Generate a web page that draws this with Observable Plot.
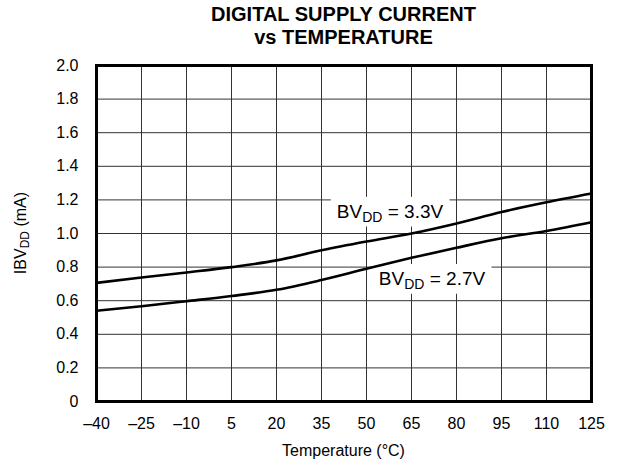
<!DOCTYPE html>
<html><head><meta charset="utf-8">
<script src="https://cdn.jsdelivr.net/npm/d3@7"></script>
<script src="https://cdn.jsdelivr.net/npm/@observablehq/plot@0.6"></script>
<style>
body{margin:0;background:#fff;font-family:"Liberation Sans",Arial,Helvetica,sans-serif;}
#wrap{width:618px;height:462px;position:relative;overflow:hidden;}
#title{height:50px;box-sizing:border-box;padding-top:3px;padding-left:69px;text-align:center;font-weight:bold;font-size:20px;line-height:23px;color:#000;}
</style></head><body>
<div id="wrap"><div id="title">DIGITAL SUPPLY CURRENT<br>vs TEMPERATURE</div><div id="chart"></div></div>
<script>
const temps = [-40, -25, -10, 5, 20, 35, 50, 65, 80, 95, 110, 125];
const i33 = [0.706, 0.738, 0.768, 0.800, 0.840, 0.900, 0.952, 1.000, 1.060, 1.128, 1.186, 1.238];
const i27 = [0.540, 0.567, 0.597, 0.628, 0.665, 0.723, 0.790, 0.855, 0.915, 0.972, 1.015, 1.067];
const xTicks = [-40, -25, -10, 5, 20, 35, 50, 65, 80, 95, 110, 125];
const yTicks = [0, 0.2, 0.4, 0.6, 0.8, 1.0, 1.2, 1.4, 1.6, 1.8, 2.0];
const seriesLabels = [
  {name: "BV", sub: "DD", rest: " = 3.3V", t: 58, v: 1.12},
  {name: "BV", sub: "DD", rest: " = 2.7V", t: 72, v: 0.72}
];

const rows = temps.flatMap((t, i) => [
  {t, v: i33[i], s: "3.3V"},
  {t, v: i27[i], s: "2.7V"}
]);

const FONT = '"Liberation Sans", Arial, Helvetica, sans-serif';
const plot = Plot.plot({
  width: 618, height: 412,
  marginTop: 15, marginBottom: 61, marginLeft: 96, marginRight: 27,
  style: {fontFamily: FONT, fontSize: "16px", color: "#000", background: "#fff", overflow: "visible"},
  x: {domain: [-40, 125], ticks: xTicks, tickFormat: d => d < 0 ? "\u2013" + (-d) : String(d), tickSize: 0, tickPadding: 16, label: null},
  y: {domain: [0, 2], ticks: yTicks, tickFormat: d => d === 0 ? "0" : d.toFixed(1), tickSize: 0, tickPadding: 18, label: null},
  marks: [
    Plot.gridX(xTicks, {stroke: "#333", strokeOpacity: 1, strokeWidth: 1}),
    Plot.gridY(yTicks, {stroke: "#333", strokeOpacity: 1, strokeWidth: 1}),
    Plot.line(rows, {x: "t", y: "v", z: "s", stroke: "#000", strokeWidth: 2.6, curve: "monotone-x"}),
    Plot.frame({stroke: "#000", strokeWidth: 3})
  ]
});
document.getElementById("chart").appendChild(plot);

const svg = d3.select(plot);
const xs = plot.scale("x"), ys = plot.scale("y");
const lineG = plot.querySelector('g[aria-label="line"]');

// series labels; white boxes sit above the grid but under the curves
for (const L of seriesLabels) {
  const text = svg.append("text")
    .attr("x", xs.apply(L.t)).attr("y", ys.apply(L.v))
    .attr("text-anchor", "middle").attr("dominant-baseline", "middle")
    .attr("font-family", FONT).attr("font-size", 19).attr("fill", "#000");
  text.append("tspan").text(L.name);
  text.append("tspan").attr("dy", 5).attr("font-size", 14).text(L.sub);
  text.append("tspan").attr("dy", -5).text(L.rest);
  const bb = text.node().getBBox();
  const rect = document.createElementNS("http://www.w3.org/2000/svg", "rect");
  d3.select(rect).attr("x", bb.x - 6).attr("y", bb.y - 4).attr("width", bb.width + 12).attr("height", bb.height + 6).attr("fill", "#fff");
  plot.insertBefore(rect, lineG);
}

// y axis title
const yMid = (ys.apply(0) + ys.apply(2)) / 2;
const yt = svg.append("text")
  .attr("transform", `translate(22,${yMid}) rotate(-90)`)
  .attr("text-anchor", "middle").attr("dominant-baseline", "middle")
  .attr("font-family", FONT).attr("font-size", 16).attr("fill", "#000");
yt.append("tspan").text("IBV");
yt.append("tspan").attr("dy", 4).attr("font-size", 12).text("DD");
yt.append("tspan").attr("dy", -4).text(" (mA)");

// x axis title
const xMid = (xs.apply(-40) + xs.apply(125)) / 2;
svg.append("text")
  .attr("x", xMid).attr("y", ys.apply(0) + 51)
  .attr("text-anchor", "middle").attr("dominant-baseline", "middle")
  .attr("font-family", FONT).attr("font-size", 16).attr("fill", "#000")
  .text("Temperature (\u00B0C)");
</script>
</body></html>
